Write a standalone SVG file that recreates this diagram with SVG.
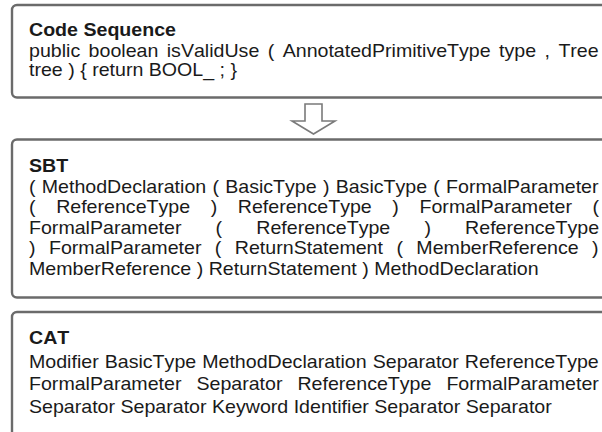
<svg xmlns="http://www.w3.org/2000/svg" width="602" height="432" viewBox="0 0 602 432">
  <style>
    .box { fill: #ffffff; stroke: #6b6b6b; stroke-width: 2.4; }
    .arrow { fill: #ffffff; stroke: #7a7a7a; stroke-width: 1.6; stroke-linejoin: miter; }
    text { font-family: "Liberation Sans", Arial, sans-serif; font-size: 18.5px; fill: #1a1a1a; font-kerning: none; }
    .title { font-weight: bold; }
  </style>
  <rect x="0" y="0" width="602" height="432" fill="#ffffff"/>

  <!-- Source code block -->
  <g id="code-sequence">
    <rect class="box" x="12" y="5" width="620" height="92.5" rx="5"/>
    <g transform="translate(29 0) scale(1.06 1)">
      <text class="title" x="0" y="36">Code Sequence</text>
      <text x="0" y="57" word-spacing="2.8">public boolean isValidUse ( AnnotatedPrimitiveType type , Tree</text>
      <text x="0" y="76">tree ) { return BOOL_ ; }</text>
    </g>
  </g>

  <!-- Transformation arrow -->
  <g id="connectors">
    <polygon class="arrow" points="305,104 322,104 322,121 335,121 313.5,134 292,121 305,121"/>
  </g>

  <!-- Structure-based traversal block -->
  <g id="sbt">
    <rect class="box" x="12" y="139.5" width="620" height="158" rx="5"/>
    <g transform="translate(29 0) scale(1.06 1)">
      <text class="title" x="0" y="172">SBT</text>
      <text x="0" y="193" word-spacing="0.74">( MethodDeclaration ( BasicType ) BasicType ( FormalParameter</text>
      <text x="0" y="213.5" word-spacing="14.3">( ReferenceType ) ReferenceType ) FormalParameter (</text>
      <text x="0" y="234" word-spacing="27.1">FormalParameter ( ReferenceType ) ReferenceType</text>
      <text x="0" y="254.5" word-spacing="7.55">) FormalParameter ( ReturnStatement ( MemberReference )</text>
      <text x="0" y="275">MemberReference ) ReturnStatement ) MethodDeclaration</text>
    </g>
  </g>

  <!-- Category sequence block -->
  <g id="cat">
    <rect class="box" x="12" y="312" width="620" height="150" rx="5"/>
    <g transform="translate(29 0) scale(1.06 1)">
      <text class="title" x="0" y="344">CAT</text>
      <text x="0" y="368" word-spacing="0.55">Modifier BasicType MethodDeclaration Separator ReferenceType</text>
      <text x="0" y="390.5" word-spacing="9">FormalParameter Separator ReferenceType FormalParameter</text>
      <text x="0" y="413">Separator Separator Keyword Identifier Separator Separator</text>
    </g>
  </g>
</svg>
